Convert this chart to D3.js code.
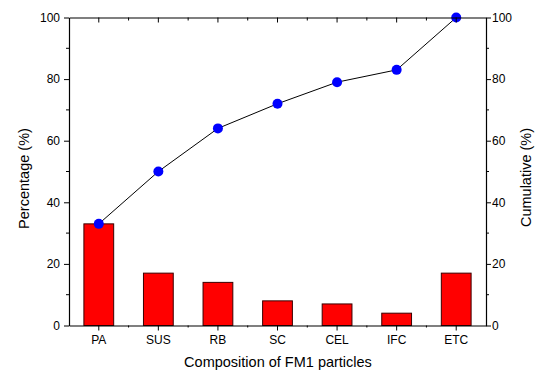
<!DOCTYPE html>
<html>
<head>
<meta charset="utf-8">
<script src="https://cdn.jsdelivr.net/npm/d3@7"></script>
<style>
  body { margin: 0; background: #fff; }
  text { font-family: "Liberation Sans", Arial, sans-serif; fill: #000; }
</style>
</head>
<body>
<div id="chart"></div>
<script>
// Data
const categories = ["PA", "SUS", "RB", "SC", "CEL", "IFC", "ETC"];
const percentage = [33, 17, 14, 8, 7, 4, 17];
const cumulative = [33, 50, 64, 72, 79, 83, 100];
const yTicks = [0, 20, 40, 60, 80, 100];

const margin = { top: 17.5, right: 53, bottom: 48.5, left: 69 },
    width = 539 - margin.left - margin.right,
    height = 374 - margin.top - margin.bottom;

const svg = d3.select("#chart")
    .append("svg")
    .attr("width", 539)
    .attr("height", 374)
    .append("g")
    .attr("transform", `translate(${margin.left},${margin.top})`);

const x = d3.scaleBand().domain(categories).range([0, width])
    .paddingInner(0.5).paddingOuter(0.25);
const y = d3.scaleLinear().domain([0, 100]).range([height, 0]);
const y2 = d3.scaleLinear().domain([0, 100]).range([height, 0]);

// Bars
svg.selectAll(".bar")
    .data(categories)
    .enter().append("rect")
    .attr("class", "bar")
    .attr("x", d => x(d))
    .attr("y", (d, i) => y(percentage[i]))
    .attr("width", x.bandwidth())
    .attr("height", (d, i) => height - y(percentage[i]))
    .style("fill", "#ff0000")
    .style("stroke", "#3a0000")
    .style("stroke-width", 1);

// Cumulative line + points
const pts = categories.map((c, i) => [x(c) + x.bandwidth() / 2, y2(cumulative[i])]);
svg.append("path")
    .attr("d", d3.line()(pts))
    .style("fill", "none")
    .style("stroke", "#000")
    .style("stroke-width", 1);
svg.selectAll(".pt")
    .data(pts)
    .enter().append("circle")
    .attr("cx", d => d[0])
    .attr("cy", d => d[1])
    .attr("r", 5)
    .style("fill", "#0000ff");

// Minor tick positions
const yMinor = d3.range(10, 100, 20);
const xMinorPos = d3.range(categories.length - 1).map(i => (x(categories[i]) + x(categories[i + 1])) / 2 + x.bandwidth() / 2);

// Left axis
const leftAxis = svg.append("g");
leftAxis.call(d3.axisLeft(y).tickValues(yTicks).tickSize(5).tickSizeOuter(0));
leftAxis.selectAll("text").style("font-size", "12px").attr("x", -9);
yMinor.forEach(v => leftAxis.append("line").attr("x1", 0).attr("x2", -3).attr("y1", y(v)).attr("y2", y(v)).style("stroke", "#000"));

// Right axis
const rightAxis = svg.append("g").attr("transform", `translate(${width},0)`);
rightAxis.call(d3.axisRight(y2).tickValues(yTicks).tickSize(5).tickSizeOuter(0));
rightAxis.selectAll("text").style("font-size", "12px").attr("x", 6);
yMinor.forEach(v => rightAxis.append("line").attr("x1", 0).attr("x2", 3).attr("y1", y2(v)).attr("y2", y2(v)).style("stroke", "#000"));

// Bottom axis
const bottomAxis = svg.append("g").attr("transform", `translate(0,${height})`);
bottomAxis.call(d3.axisBottom(x).tickSize(5).tickSizeOuter(0));
bottomAxis.selectAll("text").style("font-size", "12px").attr("y", 10);
xMinorPos.forEach(v => bottomAxis.append("line").attr("x1", v).attr("x2", v).attr("y1", 0).attr("y2", 2).style("stroke", "#000"));

// Top axis (ticks inward)
const topAxis = svg.append("g");
topAxis.call(d3.axisBottom(x).tickSize(5).tickSizeOuter(0).tickFormat(""));
xMinorPos.forEach(v => topAxis.append("line").attr("x1", v).attr("x2", v).attr("y1", 0).attr("y2", 3).style("stroke", "#000"));

svg.selectAll(".domain").style("stroke", "#000").style("stroke-width", 1.2);

// Axis labels
svg.append("text")
    .attr("transform", `translate(${-40},${height / 2 + 7}) rotate(-90)`)
    .attr("text-anchor", "middle")
    .style("font-size", "14.5px")
    .text("Percentage (%)");
svg.append("text")
    .attr("transform", `translate(${width + 45},${height / 2 + 6}) rotate(-90)`)
    .attr("text-anchor", "middle")
    .style("font-size", "14.5px")
    .text("Cumulative (%)");
svg.append("text")
    .attr("x", width / 2 + 0.5)
    .attr("y", height + 41.5)
    .attr("text-anchor", "middle")
    .style("font-size", "14.5px")
    .text("Composition of FM1 particles");
</script>
</body>
</html>
